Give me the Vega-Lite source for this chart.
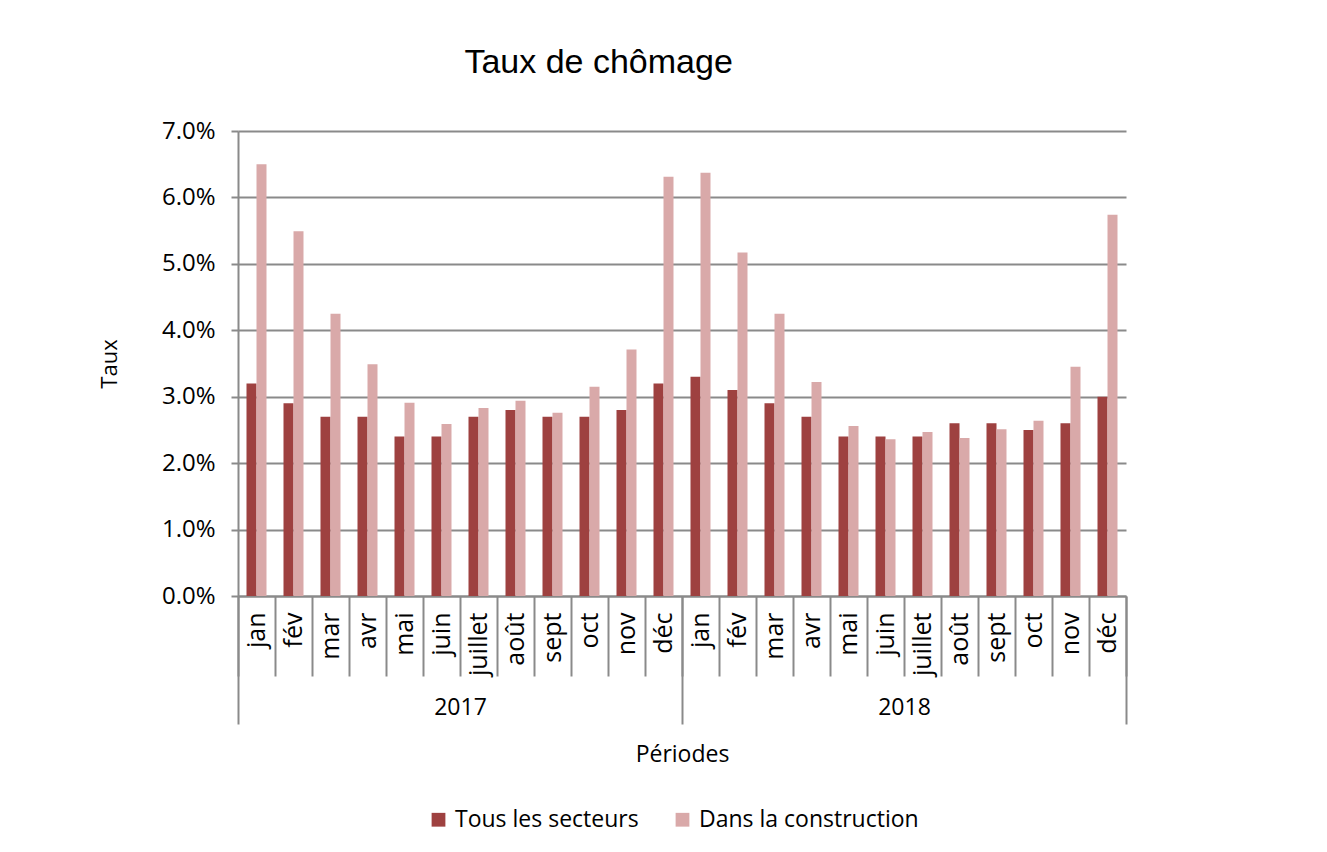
{
  "$schema": "https://vega.github.io/schema/vega-lite/v6.json",
  "width": 888,
  "height": 465,
  "autosize": "none",
  "padding": {"left": 238, "top": 131, "right": 201, "bottom": 256},
  "background": "white",
  "title": {"text": "Taux de chômage", "font": "Liberation Sans", "fontSize": 34, "fontWeight": "normal", "color": "#000", "anchor": "start", "dx": 366, "offset": 39},
  "config": {"font": "Open Sans", "view": {"stroke": null}},
  "data": {"values": [
    {"year": "2017", "month": "jan", "key": "2017-jan", "series": "Tous les secteurs", "value": 0.032},
    {"year": "2017", "month": "jan", "key": "2017-jan", "series": "Dans la construction", "value": 0.065},
    {"year": "2017", "month": "fév", "key": "2017-fév", "series": "Tous les secteurs", "value": 0.029},
    {"year": "2017", "month": "fév", "key": "2017-fév", "series": "Dans la construction", "value": 0.0549},
    {"year": "2017", "month": "mar", "key": "2017-mar", "series": "Tous les secteurs", "value": 0.027},
    {"year": "2017", "month": "mar", "key": "2017-mar", "series": "Dans la construction", "value": 0.0425},
    {"year": "2017", "month": "avr", "key": "2017-avr", "series": "Tous les secteurs", "value": 0.027},
    {"year": "2017", "month": "avr", "key": "2017-avr", "series": "Dans la construction", "value": 0.0349},
    {"year": "2017", "month": "mai", "key": "2017-mai", "series": "Tous les secteurs", "value": 0.024},
    {"year": "2017", "month": "mai", "key": "2017-mai", "series": "Dans la construction", "value": 0.0291},
    {"year": "2017", "month": "juin", "key": "2017-juin", "series": "Tous les secteurs", "value": 0.024},
    {"year": "2017", "month": "juin", "key": "2017-juin", "series": "Dans la construction", "value": 0.0259},
    {"year": "2017", "month": "juillet", "key": "2017-juillet", "series": "Tous les secteurs", "value": 0.027},
    {"year": "2017", "month": "juillet", "key": "2017-juillet", "series": "Dans la construction", "value": 0.0283},
    {"year": "2017", "month": "août", "key": "2017-août", "series": "Tous les secteurs", "value": 0.028},
    {"year": "2017", "month": "août", "key": "2017-août", "series": "Dans la construction", "value": 0.0294},
    {"year": "2017", "month": "sept", "key": "2017-sept", "series": "Tous les secteurs", "value": 0.027},
    {"year": "2017", "month": "sept", "key": "2017-sept", "series": "Dans la construction", "value": 0.0276},
    {"year": "2017", "month": "oct", "key": "2017-oct", "series": "Tous les secteurs", "value": 0.027},
    {"year": "2017", "month": "oct", "key": "2017-oct", "series": "Dans la construction", "value": 0.0315},
    {"year": "2017", "month": "nov", "key": "2017-nov", "series": "Tous les secteurs", "value": 0.028},
    {"year": "2017", "month": "nov", "key": "2017-nov", "series": "Dans la construction", "value": 0.0371},
    {"year": "2017", "month": "déc", "key": "2017-déc", "series": "Tous les secteurs", "value": 0.032},
    {"year": "2017", "month": "déc", "key": "2017-déc", "series": "Dans la construction", "value": 0.0631},
    {"year": "2018", "month": "jan", "key": "2018-jan", "series": "Tous les secteurs", "value": 0.033},
    {"year": "2018", "month": "jan", "key": "2018-jan", "series": "Dans la construction", "value": 0.0637},
    {"year": "2018", "month": "fév", "key": "2018-fév", "series": "Tous les secteurs", "value": 0.031},
    {"year": "2018", "month": "fév", "key": "2018-fév", "series": "Dans la construction", "value": 0.0517},
    {"year": "2018", "month": "mar", "key": "2018-mar", "series": "Tous les secteurs", "value": 0.029},
    {"year": "2018", "month": "mar", "key": "2018-mar", "series": "Dans la construction", "value": 0.0425},
    {"year": "2018", "month": "avr", "key": "2018-avr", "series": "Tous les secteurs", "value": 0.027},
    {"year": "2018", "month": "avr", "key": "2018-avr", "series": "Dans la construction", "value": 0.0322},
    {"year": "2018", "month": "mai", "key": "2018-mai", "series": "Tous les secteurs", "value": 0.024},
    {"year": "2018", "month": "mai", "key": "2018-mai", "series": "Dans la construction", "value": 0.0256},
    {"year": "2018", "month": "juin", "key": "2018-juin", "series": "Tous les secteurs", "value": 0.024},
    {"year": "2018", "month": "juin", "key": "2018-juin", "series": "Dans la construction", "value": 0.0236},
    {"year": "2018", "month": "juillet", "key": "2018-juillet", "series": "Tous les secteurs", "value": 0.024},
    {"year": "2018", "month": "juillet", "key": "2018-juillet", "series": "Dans la construction", "value": 0.0247},
    {"year": "2018", "month": "août", "key": "2018-août", "series": "Tous les secteurs", "value": 0.026},
    {"year": "2018", "month": "août", "key": "2018-août", "series": "Dans la construction", "value": 0.0238},
    {"year": "2018", "month": "sept", "key": "2018-sept", "series": "Tous les secteurs", "value": 0.026},
    {"year": "2018", "month": "sept", "key": "2018-sept", "series": "Dans la construction", "value": 0.0251},
    {"year": "2018", "month": "oct", "key": "2018-oct", "series": "Tous les secteurs", "value": 0.025},
    {"year": "2018", "month": "oct", "key": "2018-oct", "series": "Dans la construction", "value": 0.0264},
    {"year": "2018", "month": "nov", "key": "2018-nov", "series": "Tous les secteurs", "value": 0.026},
    {"year": "2018", "month": "nov", "key": "2018-nov", "series": "Dans la construction", "value": 0.0345},
    {"year": "2018", "month": "déc", "key": "2018-déc", "series": "Tous les secteurs", "value": 0.030},
    {"year": "2018", "month": "déc", "key": "2018-déc", "series": "Dans la construction", "value": 0.0574}
  ]},
  "layer": [
    {
      "mark": {"type": "bar"},
      "encoding": {
        "x": {
          "field": "key", "type": "nominal", "sort": null,
          "scale": {"paddingInner": 0, "paddingOuter": 0},
          "axis": {
            "orient": "bottom", "title": null,
            "labelExpr": "split(datum.value, '-')[1]",
            "labelAngle": -90, "labelAlign": "right", "labelBaseline": "middle",
            "labelFontSize": 25, "labelColor": "#000", "labelPadding": -64, "labelOverlap": false,
            "tickBand": "extent", "tickSize": 80, "tickColor": "#8a8a8a", "tickWidth": 2,
            "domainColor": "#8a8a8a", "domainWidth": 2, "grid": false
          }
        },
        "xOffset": {
          "field": "series", "type": "nominal",
          "sort": ["Tous les secteurs", "Dans la construction"],
          "scale": {"paddingInner": 0, "paddingOuter": 0.85}
        },
        "y": {
          "field": "value", "type": "quantitative",
          "scale": {"domain": [0, 0.07], "nice": false},
          "axis": {
            "format": ".1%", "values": [0, 0.01, 0.02, 0.03, 0.04, 0.05, 0.06, 0.07],
            "grid": true, "gridColor": "#8a8a8a", "gridWidth": 2,
            "tickSize": 7, "tickColor": "#8a8a8a", "tickWidth": 2,
            "domainColor": "#8a8a8a", "domainWidth": 2,
            "labelFontSize": 24, "labelColor": "#000", "labelPadding": 16,
            "title": "Taux", "titleFontSize": 22, "titleFontWeight": "normal", "titleColor": "#000", "titlePadding": 40
          }
        },
        "color": {
          "field": "series", "type": "nominal",
          "scale": {"domain": ["Tous les secteurs", "Dans la construction"], "range": ["#9E4140", "#D9A9A9"]},
          "legend": {
            "orient": "none", "legendX": 189, "legendY": 677, "direction": "horizontal", "title": null,
            "labelFontSize": 23, "labelColor": "#000", "labelLimit": 0, "symbolType": "square", "symbolSize": 190,
            "symbolStrokeWidth": 0, "columnPadding": 32, "labelOffset": 5
          }
        }
      }
    },
    {
      "mark": {"type": "point", "opacity": 0},
      "encoding": {
        "x": {
          "field": "year", "type": "ordinal",
          "scale": {"paddingInner": 0, "paddingOuter": 0},
          "axis": {
            "orient": "bottom", "domain": false,
            "tickBand": "extent", "tickSize": 128, "tickColor": "#8a8a8a", "tickWidth": 2,
            "labelAngle": 0, "labelBaseline": "top", "labelFontSize": 23, "labelColor": "#000", "labelPadding": -28,
            "title": "Périodes", "titleFontSize": 23, "titleFontWeight": "normal", "titleColor": "#000", "titlePadding": 18
          }
        },
        "y": {"field": "value", "type": "quantitative"}
      }
    }
  ],
  "resolve": {"scale": {"x": "independent"}, "axis": {"x": "independent"}}
}
